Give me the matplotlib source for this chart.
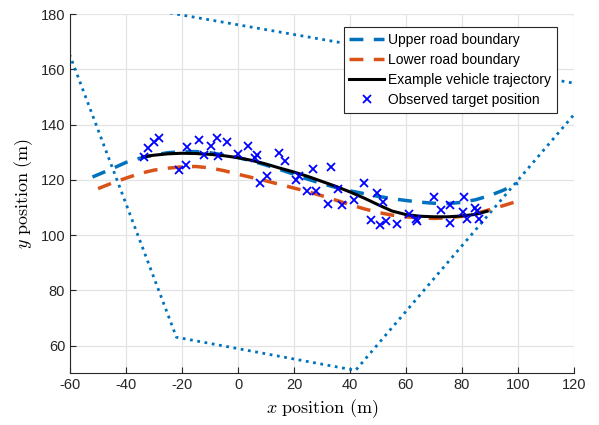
import matplotlib.pyplot as plt

plt.rcParams['font.family'] = ['Liberation Sans', 'DejaVu Sans']
plt.rcParams['mathtext.fontset'] = 'cm'
plt.rcParams['axes.unicode_minus'] = False

# road boundaries
upper_x = [-52, -45, -40, -35, -30, -25, -20, -15, -10, -5, 0, 5, 10, 15, 20, 25, 30,
           35, 40, 45, 50, 55, 60, 65, 70, 75, 80, 85, 90, 95, 100]
upper_y = [121, 124, 126.3, 127.8, 129, 129.8, 130.2, 130.2, 129.8, 129, 128, 126.8,
           125.3, 123.7, 122, 120.2, 118.6, 117.2, 116, 115, 114, 113.2, 112.5, 111.9,
           111.5, 111.4, 111.8, 112.8, 114.3, 116.3, 118.8]
lower_x = [-50, -45, -40, -35, -30, -25, -20, -15, -10, -5, 0, 5, 10, 15, 20, 25, 30,
           35, 40, 45, 50, 55, 60, 65, 70, 75, 80, 85, 90, 95, 100]
lower_y = [116.8, 118.8, 120.6, 122.3, 123.5, 124.2, 124.7, 124.8, 124.3, 123.3, 122,
           120.8, 119.6, 118.3, 117, 115.7, 114.2, 112.6, 111, 109.5, 108.2, 107.2, 106.6,
           106.2, 106, 106.2, 106.8, 107.8, 109.2, 110.7, 112.3]

# vehicle trajectory
traj_x = [-34, -30, -25, -20, -15, -10, -5, 0, 5, 10, 15, 20, 25, 30, 35, 40, 45, 50,
          55, 60, 65, 70, 75, 80, 85, 89]
traj_y = [128.3, 128.9, 129.4, 129.6, 129.5, 129.2, 128.7, 128, 127, 125.7, 124.2, 122.8,
          121.2, 119.4, 117.6, 115.6, 113.4, 111, 108.7, 107.4, 106.8, 106.6, 106.6,
          106.9, 107.5, 108.6]

# observed target positions
obs_x = [-32.0, -29.9, -28.1, -33.6, -18.1, -21.0, -18.6, -13.8, -12.1, -9.6, -7.4, -7.0,
         -4.0, 0.1, 3.7, 6.7, 6.1, 7.9, 10.5, 14.8, 16.8, 20.7, 21.9, 26.9, 33.2, 24.8,
         27.9, 32.0, 35.8, 37.0, 41.5, 45.0, 49.5, 51.7, 47.7, 50.9, 52.9, 56.7, 61.2,
         63.6, 64.0, 70.0, 72.4, 75.7, 75.7, 80.7, 80.5, 81.7, 84.6, 85.5, 86.2]
obs_y = [131.4, 133.6, 135.2, 128.2, 131.8, 123.6, 125.2, 134.5, 129.0, 132.4, 135.0, 128.5,
         133.8, 129.4, 132.1, 128.8, 127.8, 118.9, 121.3, 129.6, 126.7, 120.0, 121.5, 124.0,
         124.5, 116.1, 116.1, 111.3, 116.7, 111.0, 112.5, 118.8, 115.3, 111.9, 105.3, 103.5,
         104.9, 104.1, 107.5, 105.9, 105.1, 113.7, 108.9, 110.7, 104.3, 113.7, 108.3, 105.9,
         109.9, 108.6, 105.9]

# sensor coverage polygon
fov_x = [-68.7, -22, 42, 128.4, -68.7]
fov_y = [188.2, 63, 51, 153.5, 188.2]

fig = plt.figure(figsize=(5.99, 4.25), dpi=100)
ax = fig.add_axes([0.117, 0.122, 0.841, 0.845])

ax.plot(fov_x, fov_y, ':', color='#0072BD', lw=2)
ax.plot(upper_x, upper_y, '--', color='#0072BD', lw=2.5, dashes=(4, 3), label='Upper road boundary')
ax.plot(lower_x, lower_y, '--', color='#D95319', lw=2.5, dashes=(4, 3), label='Lower road boundary')
ax.plot(traj_x, traj_y, '-', color='black', lw=2.2, label='Example vehicle trajectory')
ax.plot(obs_x, obs_y, 'x', color='blue', ms=6, mew=1.3, ls='none', label='Observed target position')

ax.set_xlim(-60, 120)
ax.set_ylim(50, 180)
ax.set_xticks(range(-60, 121, 20))
ax.set_yticks(range(60, 181, 20))
ax.grid(True, color='#e3e3e3', lw=0.9)
ax.set_axisbelow(True)
for s in ['top', 'right']:
    ax.spines[s].set_visible(False)
for s in ['left', 'bottom']:
    ax.spines[s].set_color('#262626')
ax.tick_params(direction='in', length=4, colors='#262626', labelsize=10.5, labelcolor='#262626')

ax.set_xlabel(r'$x\ \mathrm{position\ (m)}$', fontsize=13)
ax.set_ylabel(r'$y\ \mathrm{position\ (m)}$', fontsize=13)

leg = ax.legend(loc='upper right', bbox_to_anchor=(0.966, 0.964), borderaxespad=0,
                fontsize=10, handlelength=2.5, handletextpad=0.3, labelspacing=0.45,
                fancybox=False, framealpha=1, edgecolor='#262626', borderpad=0.4)
leg.get_frame().set_linewidth(0.8)

fig.savefig('out.png', dpi=100)
